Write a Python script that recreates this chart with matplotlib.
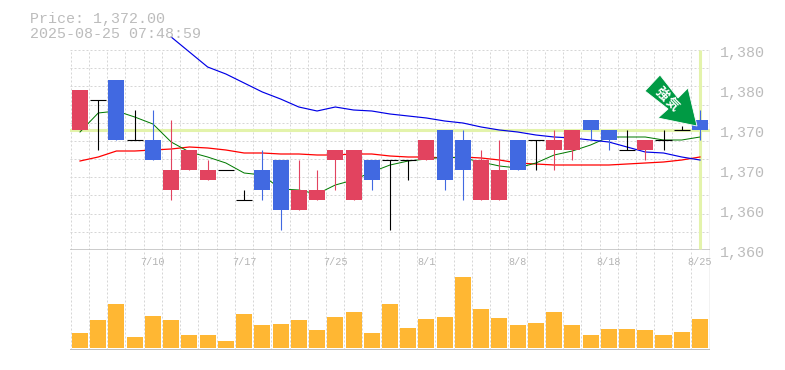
import numpy as np
import matplotlib
matplotlib.use("Agg")
import matplotlib.pyplot as plt
from matplotlib.patches import Polygon
from matplotlib.transforms import Affine2D

W, H = 785, 370
opens  = [1372,1375,1377,1371,1371,1366,1368,1367,1368,1365,1368,1369,1364,1365,1369,1365,1369,1369,1369,1369,1372,1371,1365,1365,1371,1371,1370,1370,1373,1372,1370,1370,1371,1372,1373]
closes = [1376,1375,1371,1371,1369,1368,1370,1368,1368,1365,1366,1364,1366,1366,1370,1370,1367,1369,1369,1371,1367,1368,1369,1368,1368,1371,1371,1372,1372,1371,1370,1371,1371,1372,1372]
highs  = [1376,1375,1377,1374,1374,1373,1370,1369,1368,1366,1370,1369,1369,1368,1370,1370,1369,1369,1369,1371,1372,1372,1370,1371,1371,1371,1372,1372,1373,1372,1372,1371,1372,1372.4,1374]
lows   = [1372,1370,1371,1371,1369,1365,1368,1367,1368,1365,1365,1362,1364,1365,1366,1365,1366,1362,1367,1369,1366,1365,1365,1365,1368,1368,1368,1369,1371,1370,1370,1369,1370,1372,1371]
ma_short = [1371.8,1373.7,1373.9,1373.3,1372.6,1370.8,1369.8,1369.3,1368.7,1367.7,1367.5,1366.1,1366.0,1365.6,1366.5,1367.0,1367.8,1368.5,1368.9,1369.1,1369.3,1369.2,1368.8,1368.4,1368.2,1368.7,1369.5,1369.9,1370.5,1371.3,1371.3,1371.3,1371.0,1371.0,1371.3]
ma_mid   = [1368.9,1369.3,1369.9,1369.9,1370.0,1370.1,1370.3,1370.2,1370.0,1369.7,1369.7,1369.6,1369.6,1369.5,1369.5,1369.6,1369.6,1369.4,1369.3,1369.3,1369.2,1369.3,1369.2,1369.0,1368.7,1368.6,1368.5,1368.5,1368.5,1368.5,1368.6,1368.7,1368.8,1369.0,1369.3]
ma_long  = [None,None,None,None,None,1381.3,1379.8,1378.3,1377.6,1376.7,1375.8,1375.1,1374.3,1373.9,1374.3,1374.0,1373.9,1373.6,1373.4,1373.2,1372.9,1372.7,1372.3,1372.0,1371.8,1371.5,1371.3,1371.2,1371.0,1370.8,1370.3,1369.8,1369.7,1369.3,1369.0]
volumes = [15,28,44,11,32,28,13,13,7,34,23,24,28,18,31,36,15,44,20,29,31,71,39,30,23,25,36,23,13,19,19,18,13,16,29]
date_idx = [4,9,14,19,24,29,34]
date_labels = ["7/10","7/17","7/25","8/1","8/8","8/18","8/25"]
last_price = 1372
price_ticks = [1380,1376,1372,1368,1364,1360]
price_labels = ["1,380","1,380","1,370","1,370","1,360","1,360"]

RED, BLUE, BLACK = "#e2435f", "#4169e1", "#000000"
GRAY, GRID, TXT = "#bdbdbd", "#d6d6d6", "#bcbcbc"
LIME, ORANGE, ARROW = "#e3f3ab", "#ffb733", "#009a44"
MONO = "Liberation Mono"

fig = plt.figure(figsize=(W/100, H/100), dpi=100, facecolor="white")
def axes_px(l, t, r, b):
    return fig.add_axes([l/W, 1-b/H, (r-l)/W, (b-t)/H], facecolor="none")

xlim = ((70-80)/18.235, (710-80)/18.235)
ax = axes_px(70, 50, 710, 250)
vx = axes_px(70, 250, 710, 350)
x = np.arange(len(opens))
grid_x = x - 0.51

for a in (ax, vx):
    a.set_xlim(*xlim)
    a.set_xticks([]); a.set_yticks([])
    for s in a.spines.values():
        s.set_visible(False)
    for g in grid_x:
        a.axvline(g, color=GRID, lw=0.72, dashes=(2, 2), zorder=0)
    a.axvline(xlim[1], color=GRAY, lw=1.0, zorder=1)

ax.set_ylim(1360, 1380)
for k in range(11):
    ax.axhline(1380 - k*20/11, color=GRID, lw=0.72, dashes=(2, 2), zorder=0)
ax.axhline(1360, color=GRAY, lw=1.1, zorder=1)

ax.axhline(last_price, color=LIME, lw=2.2, zorder=1)
ax.plot([x[-1], x[-1]], [1360.1, 1380], color=LIME, lw=2.2, zorder=1, solid_capstyle="butt")

ma_long_a = np.array([np.nan if v is None else v for v in ma_long], float)
ax.plot(x, ma_mid, color="#ff0000", lw=0.9, zorder=2)
ax.plot(x, ma_short, color="#007a00", lw=0.72, zorder=2)
ax.plot(x, ma_long_a, color="#0000e6", lw=0.85, zorder=2, clip_on=False)

for i, (o, c, h, l) in enumerate(zip(opens, closes, highs, lows)):
    if o == c:
        ax.plot([i, i], [l, h], color=BLACK, lw=0.8, zorder=3, solid_capstyle="butt")
        ax.plot([i-0.44, i+0.44], [c, c], color=BLACK, lw=0.8, zorder=3, solid_capstyle="butt")
    else:
        col = RED if c > o else BLUE
        ax.plot([i, i], [l, h], color=col, lw=0.8, zorder=3, solid_capstyle="butt")
        ax.bar(i, abs(c-o), bottom=min(o, c), width=0.88, color=col, lw=0, zorder=4)

vx.set_ylim(-2, 98)
vx.bar(x, volumes, width=0.88, color=ORANGE, lw=0, zorder=3)
vx.axhline(-2, color=GRAY, lw=1.4, zorder=1)

for p, s in zip(price_ticks, price_labels):
    ax.annotate(s, (1, p), xycoords=("axes fraction", "data"), xytext=(9.5, -3.5), textcoords="offset pixels",
                ha="left", va="center", family=MONO, fontsize=10.8, color=TXT)
for i, s in zip(date_idx, date_labels):
    vx.annotate(s, (i, 1), xycoords=("data", "axes fraction"), xytext=(0, -12), textcoords="offset pixels",
                ha="center", va="center", family=MONO, fontsize=7.3, color="#b4b4b4")

fig.text(30/W, 1-18.5/H, "Price: 1,372.00", family=MONO, fontsize=10.8, color=TXT, va="center", ha="left")
fig.text(30/W, 1-33.5/H, "2025-08-25 07:48:59", family=MONO, fontsize=10.8, color=TXT, va="center", ha="left")

px = Affine2D().scale(1, -1).translate(0, H)
pts = [(660, 75), (645, 91), (668, 109), (658, 118), (697, 126), (688, 88), (678, 98)]
fig.add_artist(Polygon(pts, closed=True, transform=px, facecolor=ARROW, edgecolor="white", lw=0.6, zorder=6))
fig.text(662/W, 1-94/H, "強", family=["Noto Sans CJK JP"], fontsize=9.5, fontweight="bold", color="white",
         rotation=-45, ha="center", va="center", rotation_mode="anchor", zorder=7)
fig.text(672/W, 1-104/H, "気", family=["Noto Sans CJK JP"], fontsize=9.5, fontweight="bold", color="white",
         rotation=-45, ha="center", va="center", rotation_mode="anchor", zorder=7)

fig.savefig("out.png", dpi=100, facecolor="white")
